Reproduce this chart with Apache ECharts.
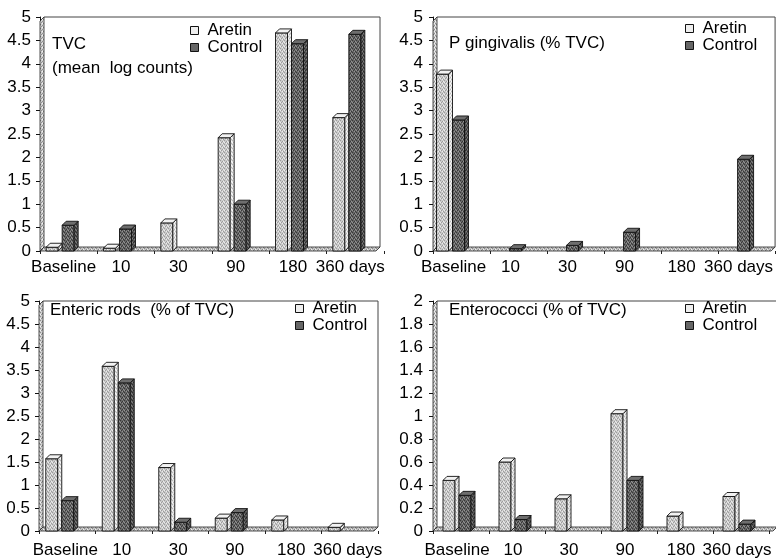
<!DOCTYPE html>
<html><head><meta charset="utf-8">
<script src="https://cdn.jsdelivr.net/npm/echarts@6/dist/echarts.min.js"></script>
<style>html,body{margin:0;padding:0;background:#fff}#c{width:776px;height:559px}</style>
</head><body><div id="c"></div>
<script>
// ---- data ----
const categories = ['Baseline', '10', '30', '90', '180', '360 days'];
const seriesNames = ['Aretin', 'Control'];
const tvcAretin = [0.08, 0.06, 0.6, 2.42, 4.66, 2.85];
const tvcControl = [0.55, 0.47, 0, 1.0, 4.43, 4.63];
const pgAretin = [3.78, 0, 0, 0, 0, 0];
const pgControl = [2.8, 0.05, 0.12, 0.4, 0, 1.96];
const entericAretin = [1.57, 3.58, 1.38, 0.28, 0.24, 0.08];
const entericControl = [0.66, 3.22, 0.19, 0.4, 0, 0];
const enteroAretin = [0.44, 0.6, 0.28, 1.02, 0.13, 0.3];
const enteroControl = [0.31, 0.1, 0, 0.44, 0, 0.06];
const panelTitles = ['TVC\n(mean  log counts)', 'P gingivalis (% TVC)', 'Enteric rods  (% of TVC)', 'Enterococci (% of TVC)'];
const yMax = [5, 5, 5, 2];
const yInterval = [0.5, 0.5, 0.5, 0.2];

// ---- layout / style ----
const FONT = "'Liberation Sans', Arial, Helvetica, sans-serif";
const FS = 17;
const panels = [
  {a: tvcAretin, c: tvcControl, left: 40, top: 17, width: 344, height: 234, barShift: -6.5, labelShift: -5, frameRight: -4, titleX: 52, titleY: 32, legendX: 190, legendY: 22, labelMargin: 8, yMargin: 9},
  {a: pgAretin, c: pgControl, left: 433, top: 17, width: 343, height: 234, barShift: -9, labelShift: -8, frameRight: 0, titleX: 449, titleY: 31, legendX: 685, legendY: 20, labelMargin: 8, yMargin: 10},
  {a: entericAretin, c: entericControl, left: 39, top: 301, width: 339, height: 230, barShift: -5.5, labelShift: -2, frameRight: 0, titleX: 50, titleY: 298, legendX: 295, legendY: 300, labelMargin: 11, yMargin: 9},
  {a: enteroAretin, c: enteroControl, left: 433, top: 301, width: 336, height: 230, barShift: -2, labelShift: -4, frameRight: 8, titleX: 449, titleY: 298, legendX: 685, legendY: 300, labelMargin: 11, yMargin: 10}
];
const FW = 12, D = 4;

function makePattern(base, dark, light) {
  const cv = document.createElement('canvas');
  cv.width = 4; cv.height = 4;
  const g = cv.getContext('2d');
  g.fillStyle = base; g.fillRect(0, 0, 4, 4);
  g.fillStyle = dark;
  [[0,0],[2,1],[1,2],[3,3]].forEach(p => g.fillRect(p[0], p[1], 1, 1));
  g.fillStyle = light;
  [[2,3],[0,2],[3,1]].forEach(p => g.fillRect(p[0], p[1], 1, 1));
  return {image: cv, repeat: 'repeat'};
}
const barStyles = [
  {front: makePattern('#cacaca', '#9c9c9c', '#ececec'), side: makePattern('#e2e2e2', '#b8b8b8', '#fafafa'), top: '#f2f2f2', legend: '#eeeeee'},
  {front: makePattern('#666666', '#383838', '#949494'), side: makePattern('#555555', '#2e2e2e', '#7e7e7e'), top: '#6e6e6e', legend: '#666666'}
];
const floorFill = makePattern('#c4c4c4', '#8a8a8a', '#eeeeee');
const wallFill = makePattern('#d0d0d0', '#909090', '#f4f4f4');

function barRender(s, pi) {
  return function (params, api) {
    const v = api.value(1);
    if (!(v > 0)) return null;
    const p = api.coord([api.value(0), v]);
    const b = api.coord([api.value(0), 0]);
    const cx = p[0] + panels[pi].barShift;
    const x0 = s === 0 ? cx - FW - D : cx;
    const x1 = x0 + FW;
    const yt = p[1], yb = b[1];
    const st = barStyles[s];
    const ln = {stroke: '#111', lineWidth: 0.9};
    return {type: 'group', children: [
      {type: 'rect', shape: {x: x0, y: yt, width: FW, height: yb - yt}, style: Object.assign({fill: st.front}, ln)},
      {type: 'polygon', shape: {points: [[x1, yt], [x1 + D, yt - D], [x1 + D, yb - D], [x1, yb]]}, style: Object.assign({fill: st.side}, ln)},
      {type: 'polygon', shape: {points: [[x0, yt], [x0 + D, yt - D], [x1 + D, yt - D], [x1, yt]]}, style: Object.assign({fill: st.top}, ln)}
    ]};
  };
}
function decorRender(pi) {
  return function (params) {
    const cs = params.coordSys;
    const x = cs.x, yT = cs.y, y0 = cs.y + cs.height;
    const xr = cs.x + cs.width + panels[pi].frameRight;
    return {type: 'group', children: [
      {type: 'polyline', shape: {points: [[x + D, yT], [xr, yT], [xr, y0 - D]]}, style: {stroke: '#444', lineWidth: 1, fill: null}},
      {type: 'polygon', shape: {points: [[x, y0], [x, yT + D], [x + D, yT], [x + D, y0 - D]]}, style: {fill: wallFill, stroke: '#222', lineWidth: 0.8}},
      {type: 'polygon', shape: {points: [[x, y0], [xr - D, y0], [xr, y0 - D], [x + D, y0 - D]]}, style: {fill: floorFill, stroke: '#222', lineWidth: 0.8}}
    ]};
  };
}

const grid = [], xAxis = [], yAxis = [], series = [], title = [], legend = [];
panels.forEach((P, i) => {
  grid.push({left: P.left, top: P.top, width: P.width, height: P.height, containLabel: false});
  xAxis.push({type: 'category', gridIndex: i, data: categories, boundaryGap: true,
    axisLine: {show: false},
    axisTick: {show: true, interval: 0, length: 3, lineStyle: {color: '#222'}},
    axisLabel: {interval: 0, margin: P.labelMargin, fontSize: FS, color: '#000', fontFamily: FONT, padding: [0, -2 * P.labelShift, 0, 0]}
  });
  yAxis.push({type: 'value', gridIndex: i, min: 0, max: yMax[i], interval: yInterval[i],
    splitLine: {show: false},
    axisLine: {show: true, lineStyle: {color: '#111'}},
    axisTick: {show: true, length: 4, lineStyle: {color: '#111'}},
    axisLabel: {fontSize: FS, color: '#000', fontFamily: FONT, margin: P.yMargin}
  });
  series.push({type: 'custom', name: 'floor' + i, xAxisIndex: i, yAxisIndex: i, silent: true, z: 1,
    renderItem: decorRender(i), data: [[0, 0]], encode: {x: 0, y: 1}});
  [P.a, P.c].forEach((arr, s) => {
    series.push({type: 'custom', name: seriesNames[s], xAxisIndex: i, yAxisIndex: i, z: 3,
      itemStyle: {color: barStyles[s].legend, borderColor: '#111', borderWidth: 1},
      renderItem: barRender(s, i), encode: {x: 0, y: 1},
      data: categories.map((c, k) => [k, arr[k]])});
  });
  title.push({text: panelTitles[i], left: P.titleX, top: P.titleY, padding: 0,
    textStyle: {fontSize: FS, fontWeight: 'normal', color: '#000', fontFamily: FONT, lineHeight: 24}});
  legend.push({data: seriesNames, left: P.legendX, top: P.legendY, orient: 'vertical', padding: 0,
    itemWidth: 8, itemHeight: 8, itemGap: 0, icon: 'rect',
    itemStyle: {borderColor: '#111', borderWidth: 1},
    textStyle: {fontSize: FS, color: '#000', fontFamily: FONT, lineHeight: 15, padding: [0, 0, 0, 4]}});
});

const chart = echarts.init(document.getElementById('c'), null, {renderer: 'canvas'});
chart.setOption({animation: false, backgroundColor: '#fff', grid, xAxis, yAxis, series, title, legend});
</script>
</body></html>
